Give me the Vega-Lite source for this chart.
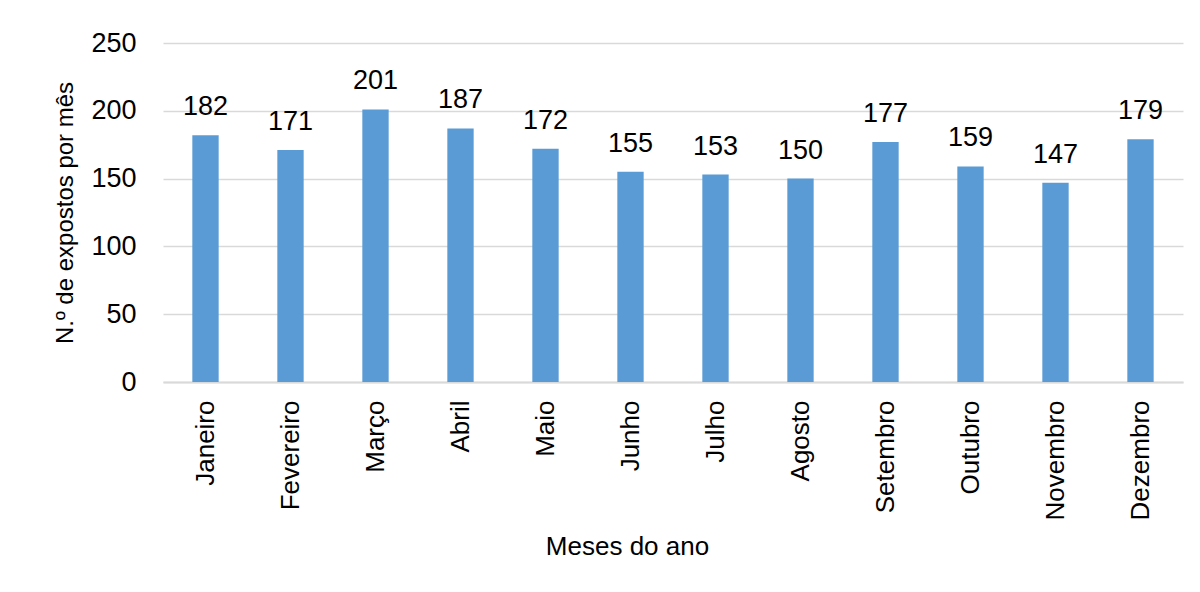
{
  "$schema": "https://vega.github.io/schema/vega-lite/v6.json",
  "width": 1020,
  "height": 339,
  "autosize": {"type": "none"},
  "padding": {"left": 163, "top": 43, "right": 17, "bottom": 210},
  "background": "white",
  "config": {
    "view": {"stroke": null},
    "font": "Liberation Sans",
    "axis": {"labelColor": "#000000", "titleColor": "#000000", "titleFontWeight": "normal", "labelFont": "Liberation Sans", "titleFont": "Liberation Sans"}
  },
  "data": {
    "values": [
      {"mes": "Janeiro", "n": 182},
      {"mes": "Fevereiro", "n": 171},
      {"mes": "Março", "n": 201},
      {"mes": "Abril", "n": 187},
      {"mes": "Maio", "n": 172},
      {"mes": "Junho", "n": 155},
      {"mes": "Julho", "n": 153},
      {"mes": "Agosto", "n": 150},
      {"mes": "Setembro", "n": 177},
      {"mes": "Outubro", "n": 159},
      {"mes": "Novembro", "n": 147},
      {"mes": "Dezembro", "n": 179}
    ]
  },
  "encoding": {
    "x": {
      "field": "mes",
      "type": "nominal",
      "sort": null,
      "scale": {"paddingInner": 0.69, "paddingOuter": 0.345},
      "axis": {
        "title": "Meses do ano",
        "titleFontSize": 26,
        "titlePadding": 14,
        "titleX": 464,
        "labelAngle": -90,
        "labelFontSize": 26,
        "labelPadding": 18,
        "ticks": false,
        "domainColor": "#d9d9d9",
        "domainWidth": 2
      }
    },
    "y": {
      "field": "n",
      "type": "quantitative",
      "scale": {"domain": [0, 250]},
      "axis": {
        "title": "N.º de expostos por mês",
        "titleFontSize": 24,
        "titlePadding": 13,
        "values": [0, 50, 100, 150, 200, 250],
        "labelFontSize": 27,
        "labelPadding": 27,
        "ticks": false,
        "domain": false,
        "gridColor": "#d9d9d9",
        "gridWidth": 1.5
      }
    }
  },
  "layer": [
    {"mark": {"type": "bar", "color": "#5B9BD5"}},
    {
      "mark": {"type": "text", "baseline": "bottom", "dy": -14, "fontSize": 27, "color": "#000000"},
      "encoding": {"text": {"field": "n", "type": "quantitative"}}
    }
  ]
}
